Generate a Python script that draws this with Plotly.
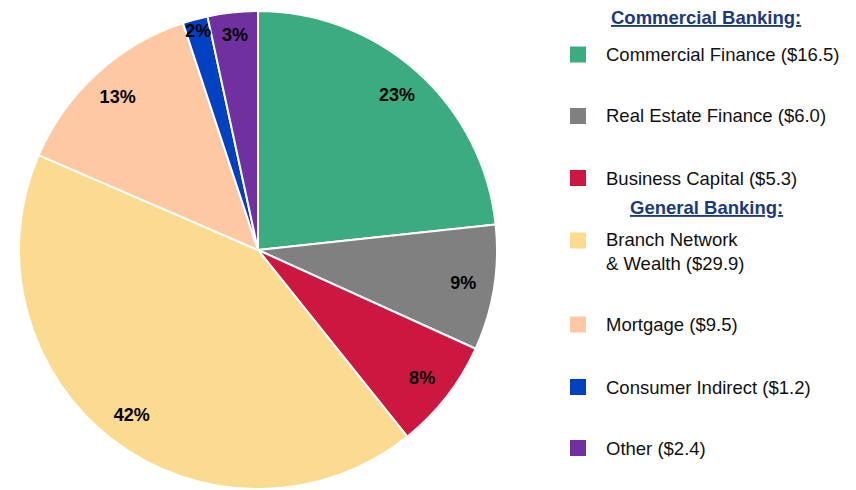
import plotly.graph_objects as go

segments = ["Commercial Finance", "Real Estate Finance", "Business Capital",
            "Branch Network<br>& Wealth", "Mortgage", "Consumer Indirect", "Other"]
amounts = [16.5, 6.0, 5.3, 29.9, 9.5, 1.2, 2.4]
pct_labels = ["23%", "9%", "8%", "42%", "13%", "2%", "3%"]
colors = ["#3BAC7F", "#808080", "#CC1840", "#FADB8F", "#FEC8A2", "#0041C2", "#7030A0"]
group_titles = ["Commercial Banking:", "General Banking:"]

# page body has an 8px margin, so the figure sits at (8, 8)
OFF = 8
W, H = 856 - OFF, 490 - OFF


def px(x):
    return (x - OFF) / W


def py(y):
    return 1 - (y - OFF) / H


pie_domain = dict(x=[px(19), px(497)], y=[py(489), py(11)])

fig = go.Figure()
fig.add_trace(go.Pie(
    labels=segments, values=amounts,
    textinfo="none",
    marker=dict(colors=colors, line=dict(color="white", width=2)),
    sort=False, direction="clockwise", rotation=0,
    showlegend=False, domain=pie_domain,
    hoverinfo="label+value",
))
# transparent ring on top, just to carry the percentage labels near the rim
fig.add_trace(go.Pie(
    labels=segments, values=amounts,
    text=pct_labels, texttemplate="<b>%{text}</b>",
    textposition="inside", insidetextorientation="horizontal",
    textfont=dict(size=18, color="black", family="Liberation Sans"),
    marker=dict(colors=["rgba(0,0,0,0)"] * len(amounts), line=dict(width=0)),
    hole=0.74, sort=False, direction="clockwise", rotation=0,
    showlegend=False, domain=pie_domain, hoverinfo="skip",
))

# hand-built legend with group headers
row_y = [54.5, 116, 178, 240.5, 324.5, 387, 448]
for name, amt, col, y in zip(segments, amounts, colors, row_y):
    fig.add_shape(type="rect", xref="paper", yref="paper",
                  x0=px(570), x1=px(586), y0=py(y + 8), y1=py(y - 8),
                  fillcolor=col, line=dict(width=0))
    two_lines = "<br>" in name
    fig.add_annotation(x=px(604), y=py(y + 11 if two_lines else y),
                       xref="paper", yref="paper",
                       xanchor="left", yanchor="middle",
                       text=f"{name} (${amt:.1f})", showarrow=False, align="left",
                       font=dict(size=18.5, color="#111111", family="Liberation Sans"))

header_y = [17, 207]
for title, y in zip(group_titles, header_y):
    fig.add_annotation(x=px(706), y=py(y), xref="paper", yref="paper",
                       xanchor="center", yanchor="middle",
                       text=f"<b><u>{title}</u></b>", showarrow=False,
                       font=dict(size=18.5, color="#1A3A7C", family="Liberation Sans"))

fig.update_layout(
    width=W, height=H,
    margin=dict(l=0, r=0, t=0, b=0),
    paper_bgcolor="white",
    plot_bgcolor="white",
    uniformtext=dict(minsize=18, mode="show"),
)

fig.write_html("out.html")
